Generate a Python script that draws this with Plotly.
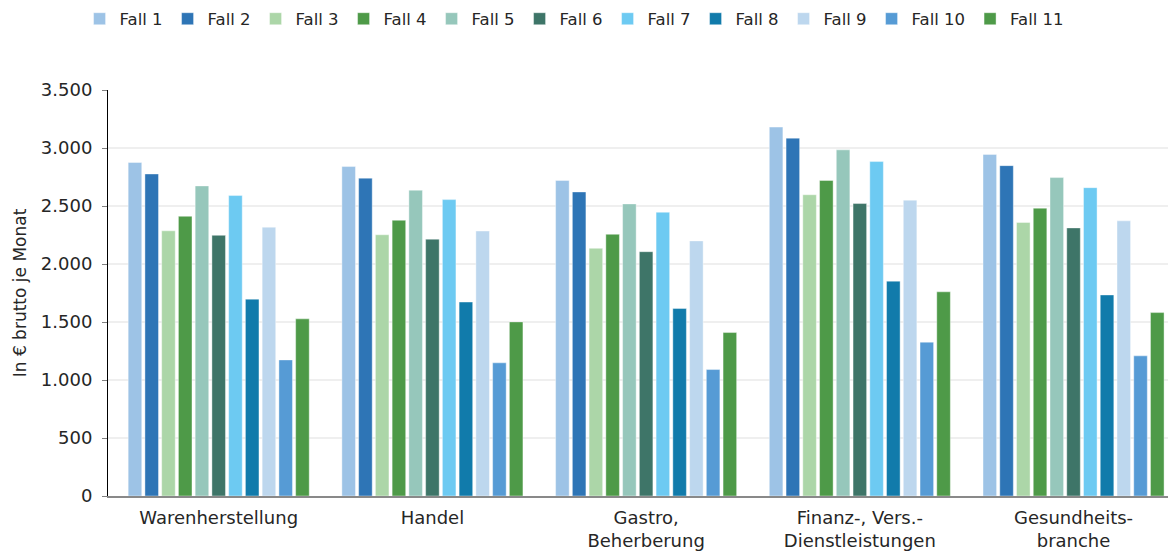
import plotly.graph_objects as go

categories = ["Warenherstellung", "Handel", "Gastro,<br>Beherberung",
              "Finanz-, Vers.-<br>Dienstleistungen", "Gesundheits-<br>branche"]

series_names = ["Fall 1", "Fall 2", "Fall 3", "Fall 4", "Fall 5", "Fall 6",
                "Fall 7", "Fall 8", "Fall 9", "Fall 10", "Fall 11"]

fall1 = [2875, 2840, 2720, 3180, 2945]
fall2 = [2776, 2740, 2621, 3085, 2848]
fall3 = [2286, 2252, 2135, 2597, 2358]
fall4 = [2411, 2377, 2256, 2720, 2481]
fall5 = [2673, 2636, 2518, 2984, 2745]
fall6 = [2247, 2214, 2106, 2521, 2311]
fall7 = [2590, 2555, 2446, 2883, 2658]
fall8 = [1697, 1672, 1616, 1852, 1733]
fall9 = [2317, 2284, 2199, 2550, 2372]
fall10 = [1173, 1148, 1090, 1326, 1208]
fall11 = [1527, 1501, 1409, 1760, 1581]

values = [fall1, fall2, fall3, fall4, fall5, fall6, fall7, fall8, fall9, fall10, fall11]

colors = ["#9dc3e6", "#2e75b6", "#acd6a8", "#4e9a48", "#96c7bb", "#3e7568",
          "#6dcaf2", "#117bab", "#bdd7ee", "#569bd5", "#4e9a48"]

FONT = "DejaVu Sans"
TXT = "#262626"

fig = go.Figure()
for name, vals, col in zip(series_names, values, colors):
    fig.add_trace(go.Bar(
        name=name, x=categories, y=vals,
        marker=dict(color=col, line=dict(color="rgba(255,255,255,0.5)", width=0.8)),
    ))

fig.update_layout(
    width=1170, height=552,
    barmode="group", bargap=0.138, bargroupgap=0.19,
    separators=",.",
    paper_bgcolor="white", plot_bgcolor="white",
    font=dict(family=FONT, size=17, color=TXT),
    margin=dict(l=108, r=2, t=90, b=56),
    legend=dict(orientation="h", xref="container", yref="container",
                x=0.068, y=1 - 19 / 552, xanchor="left", yanchor="middle",
                font=dict(size=16.5, color=TXT),
                itemwidth=30, traceorder="normal"),
    yaxis=dict(range=[0, 3500], dtick=500, tickformat=",d",
               showgrid=True, gridcolor="#efefef", gridwidth=1.5,
               showline=True, linecolor="#000000", linewidth=1,
               ticks="outside", ticklen=5, tickcolor="#808080",
               ticklabelstandoff=6,
               zeroline=False, automargin=False,
               title=dict(text="In € brutto je Monat", font=dict(size=17), standoff=9),
               tickfont=dict(size=18)),
    xaxis=dict(range=[-0.518, 4.442],
               showline=True, linecolor="#898989", linewidth=2,
               ticks="outside", ticklen=4, tickcolor="rgba(0,0,0,0)",
               automargin=False,
               tickfont=dict(size=18)),
)

fig.write_html("out.html", config={"displayModeBar": False},
               post_script="document.body.style.margin='0';")
